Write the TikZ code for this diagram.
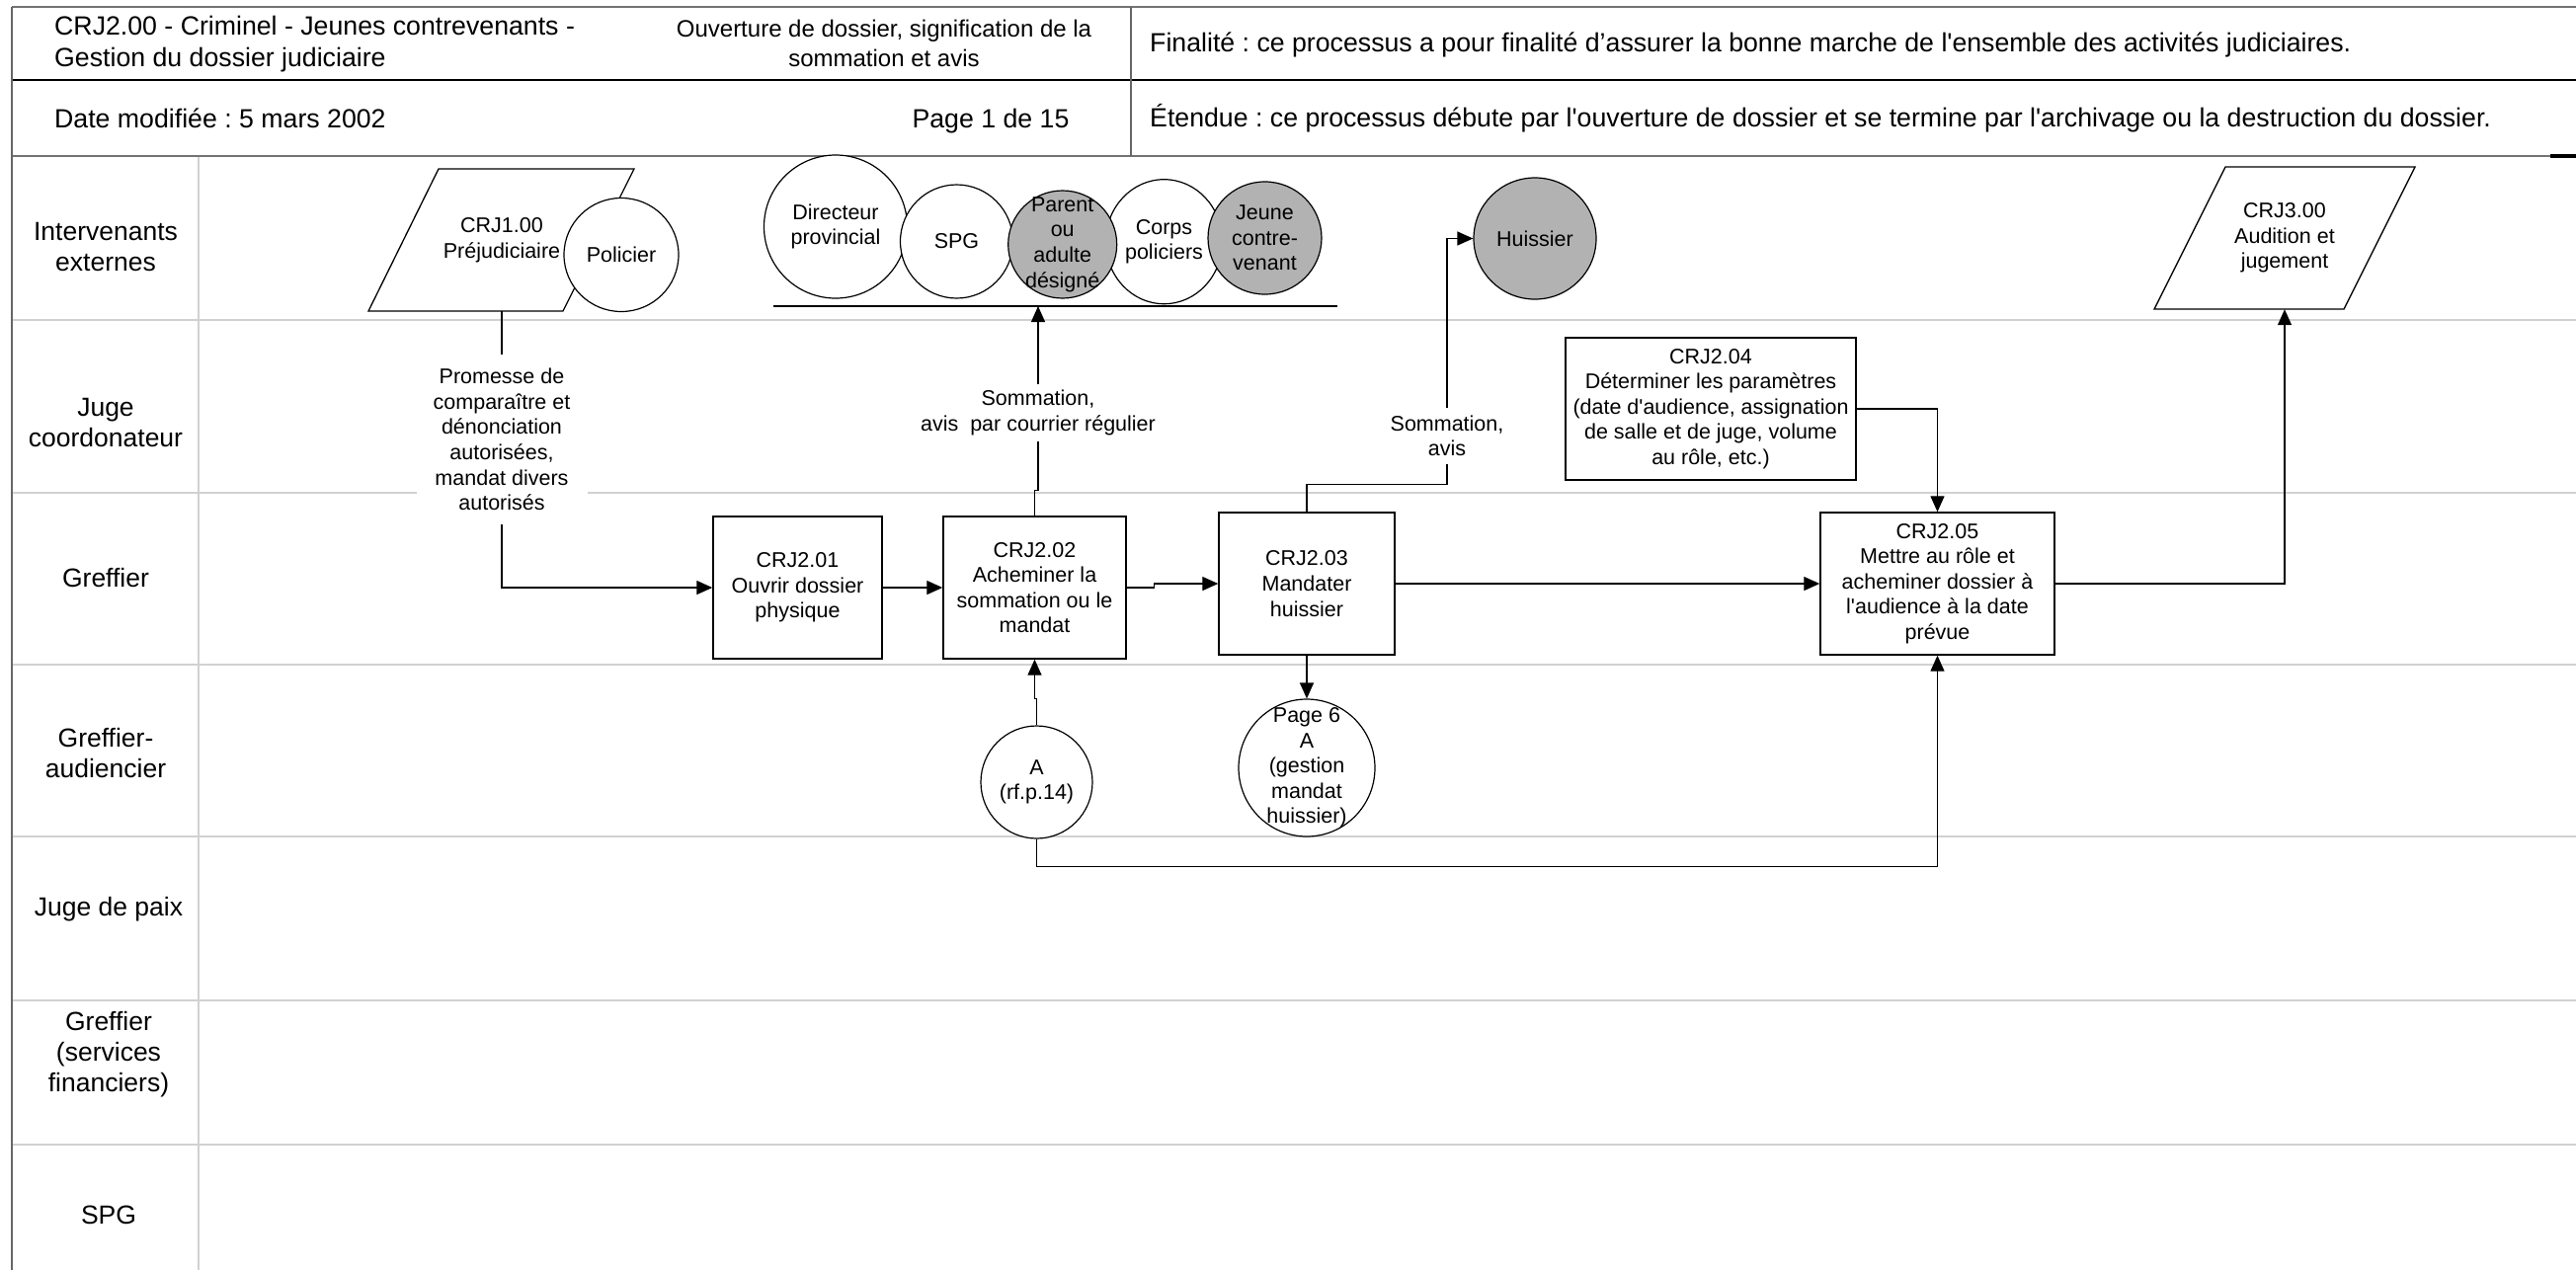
\documentclass[tikz,border=0pt]{standalone}
\usepackage{fontspec}
\setmainfont{Liberation Sans}
\usetikzlibrary{arrows.meta,shapes.geometric}
\newcommand\hdrfont{\fontsize{26.7}{32}\selectfont}
\newcommand\midhdrfont{\fontsize{24}{30}\selectfont}
\newcommand\lanefont{\fontsize{26.5}{31}\selectfont}
\newcommand\boxfont{\fontsize{21.5}{25.6}\selectfont}
\begin{document}
\frenchspacing
\begin{tikzpicture}[x=1pt,y=-1pt,
  arr/.style={-{Triangle[length=16pt,width=14pt]}},
  conn/.style={draw=black,line width=1.3pt},
  procbox/.style={draw=black,line width=1.4pt,fill=white,align=center,font=\boxfont,inner sep=0pt,minimum height=144pt},
  ell/.style={ellipse,draw=black,line width=1.2pt,fill=white,inner sep=0pt},
  gell/.style={ell,fill=gray!60},
  ctxt/.style={align=center,font=\boxfont,inner sep=0pt},
  lbl/.style={fill=white,align=center,font=\boxfont,inner sep=0pt},
  para/.style={draw=black,line width=1.3pt,fill=white},
  lane/.style={draw=black!18,line width=2pt},
  hdr/.style={draw=black!55,line width=2.4pt},
  lanetxt/.style={align=center,font=\lanefont,inner sep=0pt}
]
\useasboundingbox (0,0) rectangle (2608,1286);
\fill[white] (0,0) rectangle (2608,1286);

% lanes
\foreach \yy in {324,499,673,847,1013,1159} \draw[lane] (12,\yy) -- (2608,\yy);
\draw[lane] (201,158) -- (201,1286);

% header
\draw[hdr] (12,7) -- (2608,7);
\draw[black,line width=1.6pt] (12,81) -- (2608,81);
\draw[hdr] (12,158) -- (2582,158);
\draw[black,line width=3.5pt] (2582,158) -- (2608,158);
\draw[black!60,line width=1.6pt] (1145,7) -- (1145,158);
\draw[black!60,line width=2.2pt] (12,7) -- (12,1286);

\node[anchor=west,align=left,font=\hdrfont,inner sep=0pt] (h1) at (55,45) {CRJ2.00 - Criminel - Jeunes contrevenants -\\Gestion du dossier judiciaire};
\node[align=center,font=\midhdrfont,inner sep=0pt] (h2) at (895,44) {Ouverture de dossier, signification de la\\sommation et avis};
\node[anchor=west,font=\hdrfont,inner sep=0pt] (h3) at (1164,45) {Finalité : ce processus a pour finalité d’assurer la bonne marche de l\textquotesingle ensemble des activités judiciaires.};
\node[anchor=west,font=\hdrfont,inner sep=0pt] (h4) at (55,120) {Date modifiée : 5 mars 2002};
\node[font=\hdrfont,inner sep=0pt] (h5) at (1003,123) {Page 1 de 15};
\node[anchor=west,font=\hdrfont,inner sep=0pt] (h6) at (1164,120) {Étendue : ce processus débute par l\textquotesingle ouverture de dossier et se termine par l\textquotesingle archivage ou la destruction du dossier.};

% lane labels
\node[lanetxt] (l1) at (107,250) {Intervenants\\externes};
\node[lanetxt] (l2) at (107,428) {Juge\\coordonateur};
\node[lanetxt] (l3) at (107,585) {Greffier};
\node[lanetxt] (l4) at (107,763) {Greffier-\\audiencier};
\node[lanetxt] (l5) at (110,921) {Juge de paix};
\node[lanetxt] (l6) at (110,1068) {Greffier\\(services\\financiers)};
\node[lanetxt] (l7) at (110,1230) {SPG};

% external shapes
\draw[para] (373,315) -- (444,171) -- (642,171) -- (570,315) -- cycle;
\node[ctxt,minimum width=198pt,minimum height=144pt] (crj1) at (508,243) {CRJ1.00\\Préjudiciaire};
\node[ell,minimum width=116pt,minimum height=115pt,font=\boxfont] (pol) at (629,258) {Policier};

\node[ell,minimum width=145pt,minimum height=145pt,label={[ctxt]center:Directeur\\provincial}] (dir) at (846,229.5) {};
\node[ell,minimum width=114pt,minimum height=115pt,label={[ctxt]center:SPG}] (spg) at (968.5,244.5) {};
\node[ell,minimum width=118pt,minimum height=126pt,label={[ctxt]center:Corps\\policiers}] (corps) at (1178.5,244.7) {};
\node[gell,minimum width=110pt,minimum height=109pt,label={[ctxt]center:Parent\\ou\\adulte\\désigné}] (par) at (1075.7,247.5) {};
\node[gell,minimum width=115pt,minimum height=114pt,label={[ctxt]center:Jeune\\contre-\\venant}] (jeune) at (1280.5,241) {};
\coordinate (barL) at (783,310);
\coordinate (barR) at (1354,310);
\draw[line width=1.3pt] (barL) -- (barR);

\node[gell,minimum width=124pt,minimum height=123pt,font=\boxfont] (hui) at (1554,241.5) {Huissier};

\draw[para] (2181,313) -- (2253,169) -- (2445,169) -- (2373,313) -- cycle;
\node[ctxt,minimum width=192pt,minimum height=144pt] (crj3) at (2313,241) {CRJ3.00\\Audition et\\jugement};

% process boxes
\node[procbox,minimum width=171pt] (c201) at (807.5,595) {CRJ2.01\\Ouvrir dossier\\physique};
\node[procbox,minimum width=185pt] (c202) at (1047.5,595) {CRJ2.02\\Acheminer la\\sommation ou le\\mandat};
\node[procbox,minimum width=178pt] (c203) at (1323,591) {CRJ2.03\\Mandater\\huissier};
\node[procbox,minimum width=294pt] (c204) at (1732,414) {CRJ2.04\\Déterminer les paramètres\\(date d\textquotesingle audience, assignation\\de salle et de juge, volume\\au rôle, etc.)};
\node[procbox,minimum width=237pt] (c205) at (1961.5,591) {CRJ2.05\\Mettre au rôle et\\acheminer dossier à\\l\textquotesingle audience à la date\\prévue};

% connector circles
\node[ell,minimum width=113pt,minimum height=114pt,label={[ctxt]center:A\\(rf.p.14)}] (A) at (1049.5,792) {};
\node[ell,minimum width=138pt,minimum height=139pt,label={[ctxt]center:Page 6\\A\\(gestion\\mandat\\huissier)}] (p6) at (1323,777.5) {};

% labels
\node[lbl,minimum width=173pt,minimum height=172pt] (prom) at (508,445) {Promesse de\\comparaître et\\dénonciation\\autorisées,\\mandat divers\\autorisés};
\node[lbl,minimum height=57pt] (som1) at (1051,418) {Sommation,\\avis\ \ par courrier régulier};
\node[lbl,minimum height=57pt] (som2) at (1465,441.5) {Sommation,\\avis};

% connectors
\draw[conn] (crj1.south) -- (prom.north);
\draw[conn,arr] (prom.south) |- (c201.west);
\draw[conn,arr] (c201.east) -- (c202.west);
\draw[conn] (c202.north) -- ++(0,-26) -| (som1.south);
\draw[conn,arr] (som1.north) -- (som1.north |- barL);
\draw[conn,arr] (c202.east) -- ++(28,0) |- (c203.west);
\draw[conn] (c203.north) -- ++(0,-28) -| (som2.south);
\draw[conn,arr] (som2.north) |- (hui.west);
\draw[conn,arr] (c203.east) -- (c205.west);
\draw[conn,arr] (c203.south) -- (p6.north);
\draw[conn,arr] (c204.east) -| (c205.north);
\draw[conn,arr] (c205.east) -| (crj3.south);
\draw[conn,arr] (A.north) -- ++(0,-27) -| (c202.south);
\draw[conn,arr] (A.south) -- ++(0,28) -| (c205.south);
\end{tikzpicture}
\end{document}
